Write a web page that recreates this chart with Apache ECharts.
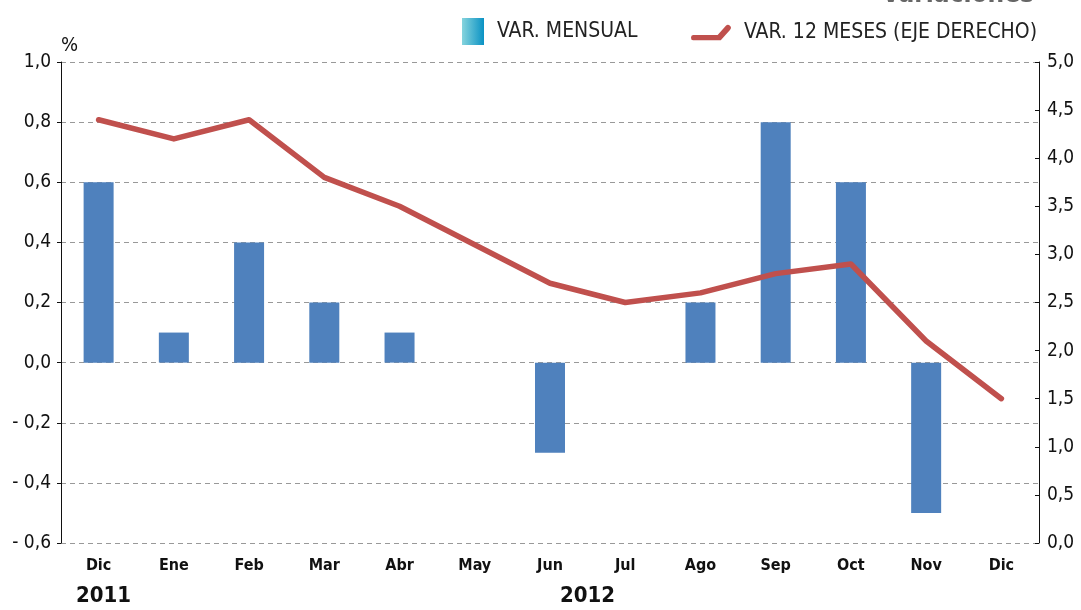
<!DOCTYPE html>
<html lang="es">
<head>
    <meta charset="UTF-8">
    <title>Variaciones</title>
    <style>
        body {
            margin: 0;
            padding: 0;
            background: #fff;
        }
        #chart {
            width: 1081px;
            height: 610px;
        }
    </style>
</head>
<body>
<div id="chart"></div>
<script src="https://cdn.jsdelivr.net/npm/echarts@6/dist/echarts.min.js"></script>
<script>
    const months = ["Dic", "Ene", "Feb", "Mar", "Abr", "May", "Jun", "Jul", "Ago", "Sep", "Oct", "Nov", "Dic"];
    const varMensual = [0.6, 0.1, 0.4, 0.2, 0.1, 0, -0.3, 0, 0.2, 0.8, 0.6, -0.5, 0];
    const var12Meses = [4.4, 4.2, 4.4, 3.8, 3.5, 3.1, 2.7, 2.5, 2.6, 2.8, 2.9, 2.1, 1.5];
    const leftTicks = { min: -0.6, max: 1.0, interval: 0.2 };
    const rightTicks = { min: 0, max: 5, interval: 0.5 };

    const font = "'Liberation Sans Narrow', 'DejaVu Sans Condensed', 'Roboto Condensed', sans-serif";

    // 1,0 style labels, negatives written "- 0,2"
    function fmt(v) {
        const s = Math.abs(v).toFixed(1).replace(".", ",");
        return v < -1e-9 ? "- " + s : s;
    }

    const chart = echarts.init(document.getElementById("chart"));

    const legendText = {
        fontFamily: font,
        fontSize: 21,
        color: "#222",
        padding: [0, 0, 0, 8],
    };

    const option = {
        backgroundColor: "#fff",
        animation: false,
        grid: {
            left: 61,
            right: 42,
            top: 62,
            bottom: 67,
        },
        legend: [
            {
                top: 13,
                left: 457,
                itemWidth: 22,
                itemHeight: 27,
                textStyle: legendText,
                data: [
                    {
                        name: "VAR. MENSUAL",
                        icon: "rect",
                        itemStyle: {
                            color: new echarts.graphic.LinearGradient(0, 0, 1, 0, [
                                { offset: 0, color: "#86d4dd" },
                                { offset: 1, color: "#0a92c4" },
                            ]),
                        },
                    },
                ],
            },
            {
                top: 17,
                left: 686,
                itemWidth: 40,
                itemHeight: 17,
                textStyle: legendText,
                data: [
                    {
                        name: "VAR. 12 MESES (EJE DERECHO)",
                        icon: "path://M2,11 L26,11 L34,2 Q36,0 38,2 Q40,4 38,6 L29,16 L2,16 Q0,16 0,13.5 Q0,11 2,11 Z",
                        itemStyle: { color: "#c0504d" },
                    },
                ],
            },
        ],
        graphic: [
            {
                // chart title, cut off at the top edge of the picture
                type: "text",
                x: 1034,
                y: 8,
                z: 10,
                style: {
                    text: "Variaciones",
                    font: "bold 26px " + font,
                    fill: "#666",
                    align: "right",
                    verticalAlign: "bottom",
                },
            },
            {
                type: "text",
                left: 76,
                top: 585,
                style: {
                    text: "2011",
                    font: "bold 22px " + font,
                    fill: "#111",
                },
            },
            {
                type: "text",
                left: 560,
                top: 585,
                style: {
                    text: "2012",
                    font: "bold 22px " + font,
                    fill: "#111",
                },
            },
        ],
        xAxis: {
            type: "category",
            data: months,
            boundaryGap: true,
            axisLine: { show: false },
            axisTick: { show: false },
            axisLabel: {
                fontFamily: font,
                fontWeight: "bold",
                fontSize: 16,
                color: "#111",
                margin: 15,
                interval: 0,
            },
        },
        yAxis: [
            {
                type: "value",
                min: leftTicks.min,
                max: leftTicks.max,
                interval: leftTicks.interval,
                name: "%",
                nameGap: 6,
                nameTextStyle: {
                    fontFamily: font,
                    fontSize: 20,
                    color: "#111",
                    align: "left",
                },
                axisLine: { show: true, lineStyle: { color: "#111", width: 1 } },
                axisTick: { show: true, length: 4, lineStyle: { color: "#111" } },
                axisLabel: {
                    formatter: fmt,
                    fontFamily: font,
                    fontSize: 19,
                    color: "#111",
                    margin: 10,
                },
                splitLine: {
                    show: true,
                    lineStyle: { color: "#999", type: [5, 4], width: 1 },
                },
            },
            {
                type: "value",
                min: rightTicks.min,
                max: rightTicks.max,
                interval: rightTicks.interval,
                position: "right",
                axisLine: { show: true, lineStyle: { color: "#111", width: 1 } },
                axisTick: { show: true, length: 4, inside: true, lineStyle: { color: "#111" } },
                axisLabel: {
                    formatter: fmt,
                    fontFamily: font,
                    fontSize: 19,
                    color: "#111",
                    margin: 8,
                },
                splitLine: { show: false },
            },
        ],
        series: [
            {
                name: "VAR. MENSUAL",
                type: "bar",
                data: varMensual,
                barWidth: 30,
                yAxisIndex: 0,
                itemStyle: { color: "#4f81bd" },
            },
            {
                name: "VAR. 12 MESES (EJE DERECHO)",
                type: "line",
                data: var12Meses,
                yAxisIndex: 1,
                symbol: "none",
                lineStyle: { color: "#c0504d", width: 5.5, cap: "round", join: "round" },
                itemStyle: { color: "#c0504d" },
            },
        ],
    };

    chart.setOption(option);
</script>
</body>
</html>
